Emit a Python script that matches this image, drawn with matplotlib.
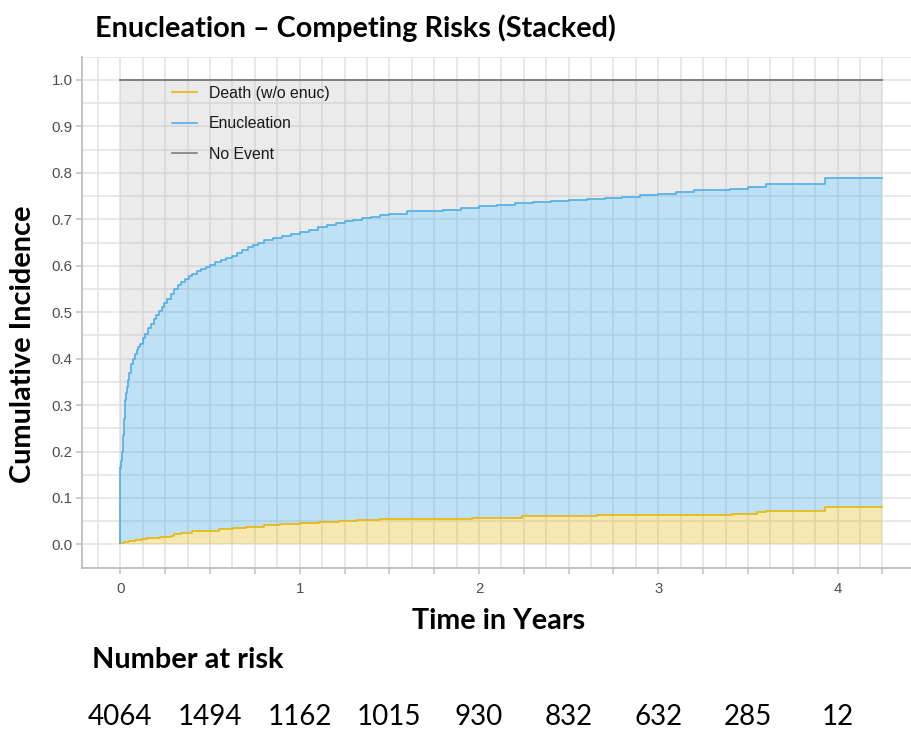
import numpy as np
import matplotlib
matplotlib.use("Agg")
import matplotlib.pyplot as plt
from matplotlib.lines import Line2D
from matplotlib.transforms import blended_transform_factory

# Cumulative incidence of death without enucleation (step function, value holds from each time on)
death_t = [0.00, 0.02, 0.05, 0.08, 0.12, 0.15, 0.22, 0.28, 0.30, 0.34, 0.40, 0.45,
           0.55, 0.63, 0.70, 0.80, 0.89, 1.00, 1.11, 1.22, 1.32, 1.45, 1.96, 2.24,
           2.66, 3.41, 3.55, 3.60, 3.93]
death_v = [0.003, 0.006, 0.008, 0.010, 0.012, 0.014, 0.016, 0.018, 0.022, 0.025, 0.028, 0.030,
           0.033, 0.035, 0.038, 0.041, 0.044, 0.046, 0.049, 0.051, 0.053, 0.055, 0.058, 0.061,
           0.064, 0.066, 0.069, 0.072, 0.081]

# Cumulative incidence of any event (death or enucleation), i.e. top of the enucleation band
any_t = [0.000, 0.004, 0.008, 0.012, 0.016, 0.020, 0.024, 0.030, 0.036, 0.042, 0.050, 0.060,
         0.070, 0.080, 0.090, 0.100, 0.110, 0.125, 0.140, 0.155, 0.170, 0.185, 0.200, 0.215,
         0.230, 0.245, 0.260, 0.280, 0.300, 0.320, 0.340, 0.360, 0.380, 0.400, 0.425, 0.450,
         0.475, 0.500, 0.530, 0.560, 0.590, 0.620, 0.650, 0.680, 0.710, 0.740, 0.770, 0.800,
         0.850, 0.900, 0.950, 1.000, 1.050, 1.100, 1.150, 1.200, 1.250, 1.300, 1.350, 1.400,
         1.450, 1.500, 1.600, 1.700, 1.800, 1.900, 2.000, 2.100, 2.200, 2.300, 2.400, 2.500,
         2.600, 2.700, 2.800, 2.900, 3.000, 3.100, 3.200, 3.300, 3.400, 3.500, 3.600, 3.930]
any_v = [0.165, 0.180, 0.200, 0.215, 0.235, 0.270, 0.310, 0.325, 0.340, 0.353, 0.369, 0.389,
         0.400, 0.410, 0.419, 0.426, 0.432, 0.444, 0.454, 0.465, 0.475, 0.485, 0.494, 0.503,
         0.512, 0.520, 0.528, 0.539, 0.549, 0.558, 0.565, 0.571, 0.578, 0.583, 0.588, 0.593,
         0.598, 0.602, 0.607, 0.612, 0.617, 0.622, 0.628, 0.634, 0.640, 0.645, 0.650, 0.655,
         0.660, 0.664, 0.668, 0.673, 0.678, 0.683, 0.688, 0.692, 0.696, 0.699, 0.703, 0.706,
         0.709, 0.711, 0.717, 0.718, 0.721, 0.725, 0.728, 0.731, 0.735, 0.737, 0.739, 0.742,
         0.744, 0.746, 0.749, 0.752, 0.755, 0.758, 0.762, 0.764, 0.766, 0.769, 0.775, 0.789]

t_end = 4.25

# Number at risk table
risk_times = [0, 0.5, 1, 1.5, 2, 2.5, 3, 3.5, 4]
risk_counts = [4064, 1494, 1162, 1015, 930, 832, 632, 285, 12]

legend_labels = ["Death (w/o enuc)", "Enucleation", "No Event"]
col_death = "#E5B80B"
col_enuc = "#4FAEE5"
col_none = "#7F7F7F"


def step_eval(ts, vs, grid):
    idx = np.searchsorted(np.asarray(ts), grid, side="right") - 1
    return np.asarray(vs)[np.clip(idx, 0, len(vs) - 1)]


grid = np.unique(np.concatenate([death_t, any_t, [t_end]]))
death_g = step_eval(death_t, death_v, grid)
any_g = step_eval(any_t, any_v, grid)

fig = plt.figure(figsize=(9.12, 7.29), dpi=100)
ax = fig.add_axes([0.0902, 0.2213, 0.9192, 0.7009])
ax.set_xlim(-0.2125, 4.4625)
ax.set_ylim(-0.05, 1.05)

# grid (major and minor look alike)
for gx in np.arange(-0.125, 4.2501, 0.125):
    ax.axvline(gx, color="#E1E1E1", lw=1.1, zorder=0)
for gy in np.arange(-0.05, 1.0501, 0.05):
    ax.axhline(gy, color="#E1E1E1", lw=1.1, zorder=0)

# stacked bands
ax.fill_between(grid, 0, death_g, step="post", color=col_death, alpha=0.32, lw=0, zorder=1)
ax.fill_between(grid, death_g, any_g, step="post", color=col_enuc, alpha=0.36, lw=0, zorder=1)
ax.fill_between(grid, any_g, 1.0, step="post", color="#BDBDBD", alpha=0.30, lw=0, zorder=1)

# boundary lines
ax.step(grid, death_g, where="post", color=col_death, lw=1.2, zorder=3)
ax.step(grid, any_g, where="post", color=col_enuc, lw=1.2, zorder=3)
ax.plot([0, t_end], [1.0, 1.0], color=col_none, lw=1.4, zorder=3)
ax.plot([0, 0], [death_g[0], any_g[0]], color=col_enuc, lw=1.2, zorder=3)

# axes styling
for s in ["top", "right"]:
    ax.spines[s].set_visible(False)
for s in ["left", "bottom"]:
    ax.spines[s].set_color("#BEBEBE")
    ax.spines[s].set_linewidth(1.3)
ax.set_yticks(np.round(np.arange(0, 1.01, 0.1), 1))
ax.set_yticklabels([f"{v:.1f}" for v in np.arange(0, 1.01, 0.1)])
ax.set_xticks(np.arange(0, 4.26, 0.25))
ax.set_xticklabels([str(int(v)) if float(v).is_integer() else "" for v in np.arange(0, 4.26, 0.25)])
ax.tick_params(axis="both", colors="#BEBEBE", length=4, width=1.1, labelsize=10.8,
               labelcolor="#4D4D4D", pad=3)
for lab in ax.get_xticklabels() + ax.get_yticklabels():
    lab.set_fontfamily("Liberation Sans")
ax.tick_params(axis="x", pad=6)

handles = [Line2D([], [], color=col_death, lw=1.2),
           Line2D([], [], color=col_enuc, lw=1.2),
           Line2D([], [], color=col_none, lw=1.2)]
leg = ax.legend(handles, legend_labels, loc="upper left",
                bbox_to_anchor=(172 / 912, 1 - 86 / 729), bbox_transform=fig.transFigure,
                frameon=False, handlelength=1.6, handletextpad=0.75, labelspacing=0.97,
                prop={"family": "Liberation Sans", "size": 11.4}, borderaxespad=0, borderpad=0)
for txt in leg.get_texts():
    txt.set_color("#1A1A1A")

bold = {"family": "Lato", "weight": "bold"}
fig.text(95 / 912, 1 - 28 / 729, "Enucleation \u2013 Competing Risks (Stacked)",
         ha="left", va="center", fontsize=20.7, color="black", **bold)
fig.text(23 / 912, 1 - 344 / 729, "Cumulative Incidence", rotation=90,
         ha="center", va="center", fontsize=20.8, color="black", **bold)
fig.text(499 / 912, 1 - 621 / 729, "Time in Years",
         ha="center", va="center", fontsize=20.7, color="black", **bold)
fig.text(92 / 912, 1 - 660 / 729, "Number at risk",
         ha="left", va="center", fontsize=20.8, color="black", **bold)

trans = blended_transform_factory(ax.transData, fig.transFigure)
for rt, rc in zip(risk_times, risk_counts):
    ax.text(rt, 1 - 717 / 729, str(rc), transform=trans, ha="center", va="center",
            fontsize=20, family="Lato", color="black", clip_on=False)

fig.savefig("out.png", dpi=100)
